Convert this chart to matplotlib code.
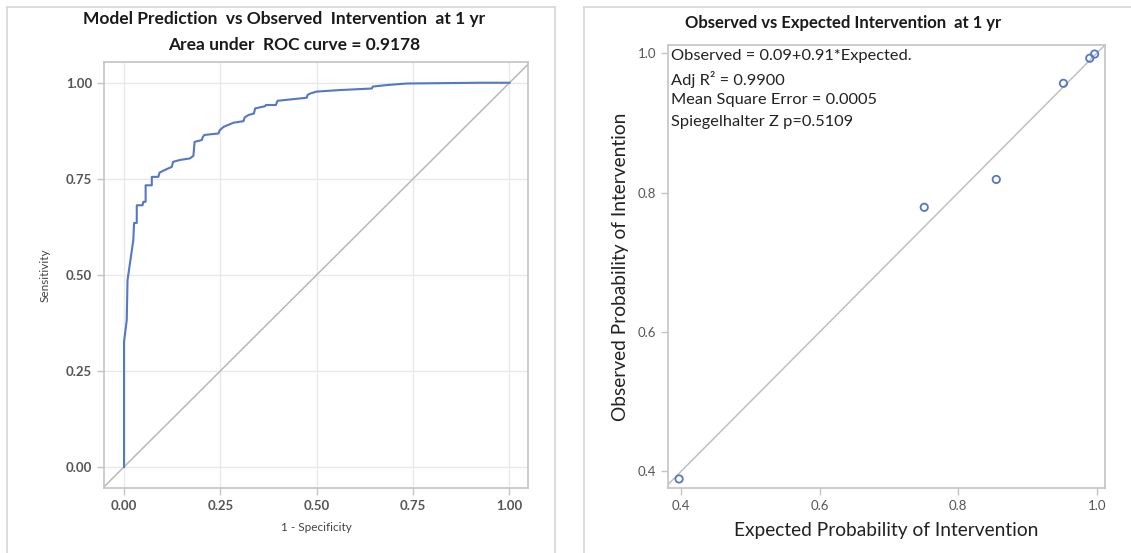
import matplotlib
matplotlib.use("Agg")
import matplotlib.pyplot as plt
from matplotlib.lines import Line2D

plt.rcParams['font.family'] = ['Lato', 'DejaVu Sans']

# ROC curve (1 - specificity, sensitivity)
roc_fpr = [0.0, 0.0, 0.007, 0.009, 0.024, 0.026, 0.033, 0.033, 0.048, 0.050, 0.056, 0.056,
           0.072, 0.072, 0.089, 0.092, 0.106, 0.124, 0.127, 0.145, 0.171, 0.180, 0.183,
           0.202, 0.204, 0.208, 0.245, 0.248, 0.258, 0.284, 0.310, 0.313, 0.323, 0.337, 0.340,
           0.366, 0.368, 0.394, 0.398, 0.474, 0.476, 0.483, 0.500, 0.561, 0.643, 0.645,
           0.682, 0.734, 0.924, 1.0]
roc_tpr = [0.0, 0.326, 0.382, 0.486, 0.590, 0.635, 0.635, 0.681, 0.681, 0.690, 0.690, 0.733,
           0.733, 0.755, 0.755, 0.766, 0.773, 0.781, 0.794, 0.799, 0.803, 0.810, 0.846,
           0.851, 0.858, 0.864, 0.868, 0.876, 0.885, 0.896, 0.900, 0.910, 0.916, 0.920, 0.933,
           0.939, 0.942, 0.942, 0.953, 0.961, 0.968, 0.972, 0.977, 0.981, 0.985, 0.990,
           0.994, 0.998, 1.0, 1.0]
roc_ticks = [0.0, 0.25, 0.5, 0.75, 1.0]
roc_ticklabels = ["0.00", "0.25", "0.50", "0.75", "1.00"]

# Calibration points
expected = [0.397, 0.751, 0.855, 0.952, 0.990, 0.997]
observed = [0.389, 0.779, 0.819, 0.957, 0.993, 0.999]
cal_ticks = [0.4, 0.6, 0.8, 1.0]
cal_ticklabels = ["0.4", "0.6", "0.8", "1.0"]
cal_stats = ["Observed = 0.09+0.91*Expected.",
             "Adj R\u00b2 = 0.9900",
             "Mean Square Error = 0.0005",
             "Spiegelhalter Z p=0.5109"]

W, H = 1131, 553
fig = plt.figure(figsize=(W / 100, H / 100), dpi=100)
fig.patch.set_facecolor("white")

def fx(px):
    return px / W

def fy(py):
    return 1 - py / H

# panel borders
border_col = "#d6d6d6"
for xs, ys in [([7, 7], [553, 7]), ([7, 555], [7, 7]), ([555, 555], [553, 7]),
               ([584, 584], [553, 7]), ([584, 1131], [7, 7])]:
    fig.add_artist(Line2D([fx(v) for v in xs], [fy(v) for v in ys], color=border_col,
                          lw=1.2, transform=fig.transFigure))

frame_col = "#c4c4c4"

# ---------- Left: ROC ----------
ax1 = fig.add_axes([fx(104), fy(488), fx(528 - 104), (488 - 62) / H])
ax1.plot([-0.06, 1.06], [-0.06, 1.06], color="#b8b8b8", lw=1.1, zorder=2)
ax1.plot(roc_fpr, roc_tpr, color="#5477c6", lw=1.5, zorder=3)
ax1.set_xlim(-0.052, 1.048)
ax1.set_ylim(-0.055, 1.054)
ax1.set_xticks(roc_ticks)
ax1.set_xticklabels(roc_ticklabels)
ax1.set_yticks(roc_ticks)
ax1.set_yticklabels(roc_ticklabels)
ax1.grid(True, color="#e9e9e9", lw=1.0, zorder=0)
ax1.set_axisbelow(True)
for s in ax1.spines.values():
    s.set_color(frame_col)
    s.set_linewidth(1.2)
ax1.tick_params(colors=frame_col, labelsize=9.5, length=5, width=1)
for lab in ax1.get_xticklabels() + ax1.get_yticklabels():
    lab.set_fontweight("bold")
    lab.set_color("#555555")
ax1.set_xlabel("1 - Specificity", fontsize=8.5, color="#444444", labelpad=7)
ax1.set_ylabel("Sensitivity", fontsize=8.5, color="#444444", labelpad=11)
fig.text(fx(284), fy(19), "Model Prediction  vs Observed  Intervention  at 1 yr",
         ha="center", va="center", fontsize=12.5, fontweight="bold", color="#1a1a1a")
fig.text(fx(294), fy(45), "Area under  ROC curve = 0.9178",
         ha="center", va="center", fontsize=12.5, fontweight="bold", color="#1a1a1a")

# ---------- Right: calibration ----------
ax2 = fig.add_axes([fx(668), fy(488), fx(1105 - 668), (488 - 45) / H])
ax2.plot([0.3, 1.05], [0.3, 1.05], color="#c0c0c0", lw=1.1, zorder=2)
ax2.scatter(expected, observed, s=28, facecolors="none", edgecolors="#5477c6", linewidths=1.3, zorder=3)
ax2.set_xlim(0.381, 1.012)
ax2.set_ylim(0.376, 1.012)
ax2.set_xticks(cal_ticks)
ax2.set_xticklabels(cal_ticklabels)
ax2.set_yticks(cal_ticks)
ax2.set_yticklabels(cal_ticklabels)
for s in ax2.spines.values():
    s.set_color(frame_col)
    s.set_linewidth(1.2)
ax2.tick_params(colors=frame_col, labelcolor="#555555", labelsize=9.5, length=5, width=1)
ax2.set_xlabel("Expected Probability of Intervention", fontsize=13.8, color="#222222", labelpad=7)
ax2.set_ylabel("Observed Probability of Intervention", fontsize=13.8, color="#222222", labelpad=6)
for i, line in enumerate(cal_stats):
    ax2.text(0.008, 0.99 - i * 0.0497, line, transform=ax2.transAxes, ha="left", va="top",
             fontsize=11.8, color="#222222")
fig.text(fx(843), fy(23), "Observed vs Expected Intervention  at 1 yr",
         ha="center", va="center", fontsize=12, fontweight="bold", color="#1a1a1a")

fig.savefig("out.png", dpi=100, facecolor="white")
